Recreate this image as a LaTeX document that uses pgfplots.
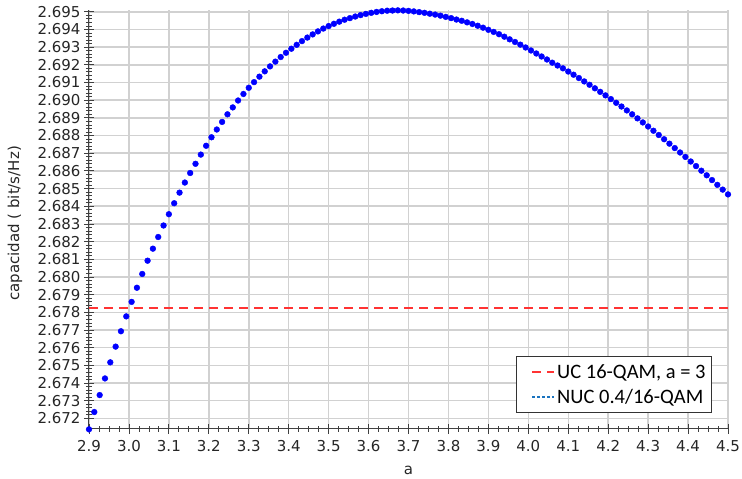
\documentclass[border=0pt]{standalone}
\usepackage{pgfplots}
\usepackage{pgfplotstable}
\pgfplotsset{compat=1.18}
\usetikzlibrary{calc}
\usepackage{fontspec}
\setmainfont{DejaVu Sans}
\newfontfamily\legfont{Carlito}
\definecolor{ucred}{rgb}{1,0.2,0.2}
\definecolor{nucblue}{rgb}{0.1,0.45,0.75}
\definecolor{gridgray}{rgb}{0.82,0.82,0.82}
\pgfplotstableread{
x y
2.9000 2.67138
2.9133 2.67236
2.9267 2.67332
2.9400 2.67426
2.9533 2.67517
2.9667 2.67606
2.9800 2.67693
2.9933 2.67777
3.0067 2.67859
3.0200 2.67939
3.0333 2.68017
3.0467 2.68092
3.0600 2.68160
3.0733 2.68226
3.0867 2.68291
3.1000 2.68355
3.1133 2.68417
3.1267 2.68477
3.1400 2.68534
3.1533 2.68588
3.1667 2.68640
3.1800 2.68692
3.1933 2.68742
3.2067 2.68790
3.2200 2.68834
3.2333 2.68877
3.2467 2.68920
3.2600 2.68959
3.2733 2.68998
3.2867 2.69035
3.3000 2.69070
3.3133 2.69102
3.3267 2.69133
3.3400 2.69163
3.3533 2.69191
3.3667 2.69218
3.3800 2.69244
3.3933 2.69268
3.4067 2.69291
3.4200 2.69313
3.4333 2.69334
3.4467 2.69354
3.4600 2.69372
3.4733 2.69389
3.4867 2.69405
3.5000 2.69419
3.5133 2.69432
3.5267 2.69444
3.5400 2.69455
3.5533 2.69464
3.5667 2.69473
3.5800 2.69481
3.5933 2.69488
3.6067 2.69494
3.6200 2.69499
3.6333 2.69503
3.6467 2.69506
3.6600 2.69507
3.6733 2.69508
3.6867 2.69507
3.7000 2.69505
3.7133 2.69502
3.7267 2.69498
3.7400 2.69494
3.7533 2.69489
3.7667 2.69484
3.7800 2.69478
3.7933 2.69471
3.8067 2.69464
3.8200 2.69456
3.8333 2.69449
3.8467 2.69440
3.8600 2.69431
3.8733 2.69421
3.8867 2.69410
3.9000 2.69398
3.9133 2.69386
3.9267 2.69373
3.9400 2.69359
3.9533 2.69344
3.9667 2.69329
3.9800 2.69314
3.9933 2.69298
4.0067 2.69281
4.0200 2.69264
4.0333 2.69247
4.0467 2.69230
4.0600 2.69212
4.0733 2.69196
4.0867 2.69180
4.1000 2.69162
4.1133 2.69144
4.1267 2.69125
4.1400 2.69106
4.1533 2.69087
4.1667 2.69067
4.1800 2.69047
4.1933 2.69027
4.2067 2.69006
4.2200 2.68985
4.2333 2.68964
4.2467 2.68942
4.2600 2.68920
4.2733 2.68897
4.2867 2.68874
4.3000 2.68851
4.3133 2.68827
4.3267 2.68803
4.3400 2.68779
4.3533 2.68754
4.3667 2.68729
4.3800 2.68704
4.3933 2.68679
4.4067 2.68653
4.4200 2.68627
4.4333 2.68601
4.4467 2.68575
4.4600 2.68548
4.4733 2.68521
4.4867 2.68494
4.5000 2.68467
}\nucdata
\begin{document}
\begin{tikzpicture}
\begin{axis}[
  name=ax,
  scale only axis,
  width=639pt, height=419pt,
  xmin=2.9, xmax=4.5, ymin=2.6714, ymax=2.6951,
  axis x line=bottom, axis y line=left,
  axis line style={-, black!75, line width=1pt},
  xtick={2.9,3.0,3.1,3.2,3.3,3.4,3.5,3.6,3.7,3.8,3.9,4.0,4.1,4.2,4.3,4.4,4.5},
  ytick={2.672,2.673,2.674,2.675,2.676,2.677,2.678,2.679,2.680,2.681,2.682,2.683,2.684,2.685,2.686,2.687,2.688,2.689,2.690,2.691,2.692,2.693,2.694,2.695},
  minor x tick num=3, minor y tick num=4,
  tick align=center,
  major tick length=10pt, minor tick length=6pt,
  tick style={black!75, line width=0.8pt},
  grid=major, major grid style={gridgray, line width=1.5pt},
  scaled x ticks=false, scaled y ticks=false,
  x tick label style={yshift=-3pt, /pgf/number format/fixed, /pgf/number format/fixed zerofill, /pgf/number format/precision=1, /pgf/number format/assume math mode=true},
  y tick label style={/pgf/number format/fixed, /pgf/number format/fixed zerofill, /pgf/number format/precision=3, /pgf/number format/assume math mode=true},
  ticklabel style={font=\fontsize{15}{17}\selectfont, text=black!85},
  xlabel={a}, ylabel={capacidad ( bit/s/Hz)},
  label style={font=\fontsize{15}{17}\selectfont, text=black!85},
  xlabel style={at={($(axis description cs:0.5,0)+(0pt,-41pt)$)}, anchor=center},
  ylabel style={at={($(axis description cs:0,0.5)+(-74pt,-4pt)$)}, anchor=center},
  clip=false,
  legend style={at={(rel axis cs:1,0)}, xshift=-16pt, yshift=16pt, anchor=south east,
    font=\legfont\fontsize{20.5}{24}\selectfont, draw=black!80, line width=0.8pt,
    inner xsep=4pt, inner ysep=6pt, row sep=5pt},
  legend cell align=left,
  legend image code/.code={\path[draw=none] (0pt,-3pt) -- (0pt,3pt); \draw[#1] (12pt,0pt) -- (34pt,0pt);},
]
\addplot[ucred, line width=2pt, dash pattern=on 9pt off 6pt] coordinates {(2.9,2.67825) (4.5,2.67825)};
\addlegendentry{UC 16-QAM, a = 3}
\addlegendimage{nucblue, line width=2pt, dash pattern=on 2.5pt off 2.5pt}
\addlegendentry{NUC 0.4/16-QAM}
\addplot[only marks, mark=*, mark size=2.9pt, color=blue, forget plot] table {\nucdata};
\end{axis}
\pgfresetboundingbox
\path ([xshift=-89pt,yshift=-50pt]ax.south west) rectangle ([xshift=14pt,yshift=10pt]ax.north east);
\end{tikzpicture}
\end{document}
